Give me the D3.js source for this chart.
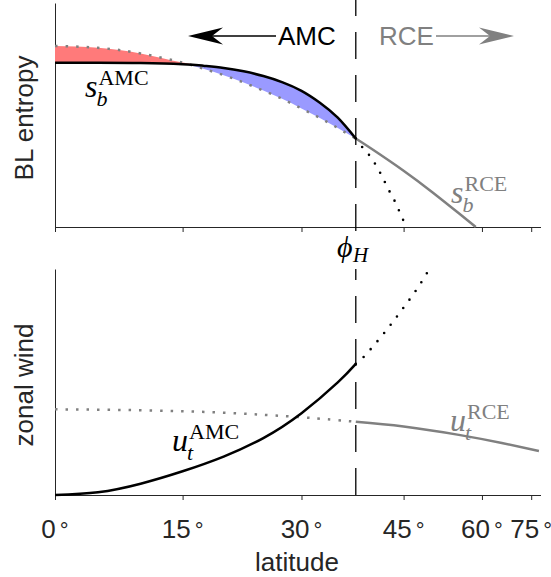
<!DOCTYPE html>
<html>
<head>
<meta charset="utf-8">
<script src="https://cdn.jsdelivr.net/npm/d3@7"></script>
<style>
  body { margin: 0; background: #fff; }
  text { font-family: "Liberation Sans", Arial, sans-serif; }
  text.math { font-family: "Liberation Serif", "DejaVu Serif", serif; }
</style>
</head>
<body>
<div id="chart"></div>
<script>
// latitude ticks (degrees)
var latTicks = [0, 15, 30, 45, 60, 75];
var latMax = 80;
var phiH = 37.6;

// top panel: BL entropy (arbitrary units 0-10)
var sLat = [0, 5, 10, 15, 17.5, 20, 22.5, 25, 27.5, 30, 32.5, 35, 37.6];
var sAmc = [7.33, 7.33, 7.32, 7.27, 7.2, 7.1, 6.95, 6.74, 6.46, 6.08, 5.55, 4.88, 3.95];
var sRceIn = [8.08, 8.0, 7.75, 7.34, 7.07, 6.78, 6.45, 6.09, 5.71, 5.29, 4.87, 4.42, 3.95];
var sRceOutLat = [37.6, 40, 45, 50, 55, 58.6];
var sRceOut = [3.95, 3.48, 2.51, 1.54, 0.61, 0];
var sAmcExtLat = [37.6, 38.7, 39.7, 40.6, 41.4, 42.1, 42.9, 43.7, 44.4, 45.1];
var sAmcExt = [3.95, 3.51, 3.17, 2.77, 2.35, 1.95, 1.5, 1.08, 0.64, 0.21];

// bottom panel: zonal wind (arbitrary units 0-10)
var uAmcLat = [0, 5, 10, 15, 20, 25, 30, 35, 37.6];
var uAmc = [0, 0.12, 0.5, 1.05, 1.7, 2.52, 3.62, 4.98, 5.8];
var uAmcExtLat = [37.6, 38.8, 41.0, 43.1, 45.1, 47.2, 49.2];
var uAmcExt = [5.8, 6.12, 6.86, 7.6, 8.33, 9.1, 9.91];
var uRceLat = [0, 10, 20, 30, 37.6, 45, 55, 65, 79];
var uRce = [3.79, 3.75, 3.64, 3.44, 3.24, 3.03, 2.66, 2.3, 1.95];

var W = 551, H = 577;
var grey = "#808080", axisCol = "#262626";
var rad = Math.PI / 180;

var svg = d3.select("#chart").append("svg")
    .attr("width", W).attr("height", H);

// x is linear in sin(latitude)
var xs = d3.scaleLinear().domain([0, Math.sin(latMax * rad)]).range([55, 540.5]);
function x(lat) { return xs(Math.sin(lat * rad)); }

var yTop = d3.scaleLinear().domain([0, 10]).range([227, 3]);
var yBot = d3.scaleLinear().domain([0, 10]).range([495, 269]);

function zip(a, b) { return a.map(function (v, i) { return [v, b[i]]; }); }

function drawAxes(y, withLabels) {
    var g = svg.append("g");
    var xAxis = d3.axisBottom(xs)
        .tickValues(latTicks.map(function (d) { return Math.sin(d * rad); }))
        .tickFormat("")
        .tickSize(5)
        .tickSizeOuter(0);
    g.append("g").attr("transform", "translate(0," + y.range()[0] + ")").call(xAxis);
    var yAxis = d3.axisLeft(y).tickValues([]).tickSizeOuter(0);
    g.append("g").attr("transform", "translate(55,0)").call(yAxis);
    g.selectAll("path, line").attr("stroke", axisCol).attr("stroke-width", 1);

    if (withLabels) {
        var lab = svg.append("g").attr("font-size", 26).attr("fill", axisCol);
        latTicks.forEach(function (d) {
            var t = lab.append("text").attr("x", x(d)).attr("y", 538).attr("text-anchor", "middle");
            t.append("tspan").text(d);
            t.append("tspan").attr("dx", 4).attr("font-size", 22).text("°");
        });
    }
}

drawAxes(yTop, false);
drawAxes(yBot, true);

// ---------- top panel ----------
var lineTop = d3.line().x(function (d) { return x(d[0]); }).y(function (d) { return yTop(d[1]); })
    .curve(d3.curveNatural);

// red where RCE entropy is above AMC, blue where below
var both = sLat.map(function (l, i) { return [l, sAmc[i], sRceIn[i]]; });
var areaTop = function (pick) {
    return d3.area().x(function (d) { return x(d[0]); })
        .y0(function (d) { return yTop(d[1]); })
        .y1(function (d) { return yTop(pick(d[1], d[2])); })
        .curve(d3.curveMonotoneX);
};
svg.append("path").datum(both).attr("d", areaTop(Math.max)).attr("fill", "#ff7a7a");
svg.append("path").datum(both).attr("d", areaTop(Math.min)).attr("fill", "#9a9aff");

svg.append("path").datum(zip(sLat, sRceIn)).attr("d", lineTop)
    .attr("fill", "none").attr("stroke", grey).attr("stroke-width", 2.5)
    .attr("stroke-dasharray", "2.5,8");
svg.append("path").datum(zip(sRceOutLat, sRceOut)).attr("d", lineTop)
    .attr("fill", "none").attr("stroke", grey).attr("stroke-width", 2.5);
svg.append("path").datum(zip(sAmcExtLat, sAmcExt)).attr("d", lineTop)
    .attr("fill", "none").attr("stroke", "#000").attr("stroke-width", 2.6)
    .attr("stroke-linecap", "round").attr("stroke-dasharray", "0,10.5");
svg.append("path").datum(zip(sLat, sAmc)).attr("d", lineTop)
    .attr("fill", "none").attr("stroke", "#000").attr("stroke-width", 2.5);

// ---------- bottom panel ----------
var lineBot = d3.line().x(function (d) { return x(d[0]); }).y(function (d) { return yBot(d[1]); })
    .curve(d3.curveNatural);

var rceIn = zip(uRceLat, uRce).filter(function (d) { return d[0] <= phiH; });
var rceOut = zip(uRceLat, uRce).filter(function (d) { return d[0] >= phiH; });
svg.append("path").datum(rceIn).attr("d", lineBot)
    .attr("fill", "none").attr("stroke", grey).attr("stroke-width", 2.5)
    .attr("stroke-dasharray", "2.5,8");
svg.append("path").datum(rceOut).attr("d", lineBot)
    .attr("fill", "none").attr("stroke", grey).attr("stroke-width", 2.5);
svg.append("path").datum(zip(uAmcExtLat, uAmcExt)).attr("d", lineBot)
    .attr("fill", "none").attr("stroke", "#000").attr("stroke-width", 2.6)
    .attr("stroke-linecap", "round").attr("stroke-dasharray", "0,10.5");
svg.append("path").datum(zip(uAmcLat, uAmc)).attr("d", lineBot)
    .attr("fill", "none").attr("stroke", "#000").attr("stroke-width", 2.5);

// dashed phi_H line in both panels
[[yTop.range()[0] + 4, 0], [yBot.range()[0], 269]].forEach(function (p) {
    svg.append("line")
        .attr("x1", x(phiH)).attr("x2", x(phiH))
        .attr("y1", p[0]).attr("y2", p[1])
        .attr("stroke", "#000").attr("stroke-width", 1.3)
        .attr("stroke-dasharray", "27,16");
});

// ---------- labels ----------
svg.append("text").attr("transform", "translate(33,118) rotate(-90)")
    .attr("text-anchor", "middle").attr("font-size", 26).attr("fill", axisCol).text("BL entropy");
svg.append("text").attr("transform", "translate(33,385) rotate(-90)")
    .attr("text-anchor", "middle").attr("font-size", 26).attr("fill", axisCol).text("zonal wind");
svg.append("text").attr("x", 297).attr("y", 571)
    .attr("text-anchor", "middle").attr("font-size", 26).attr("fill", axisCol).text("latitude");

// arrows
svg.append("line").attr("x1", 276).attr("x2", 205).attr("y1", 36).attr("y2", 36)
    .attr("stroke", "#000").attr("stroke-width", 1.5);
svg.append("path").attr("d", "M188,36 L223,27.5 L212,36 L223,44.5 Z").attr("fill", "#000");
svg.append("text").attr("x", 278).attr("y", 45).attr("font-size", 26).attr("fill", "#000").text("AMC");
svg.append("text").attr("x", 379).attr("y", 45).attr("font-size", 26).attr("fill", grey).text("RCE");
svg.append("line").attr("x1", 436).attr("x2", 498).attr("y1", 36).attr("y2", 36)
    .attr("stroke", grey).attr("stroke-width", 1.5);
svg.append("path").attr("d", "M514,36 L479,27.5 L490,36 L479,44.5 Z").attr("fill", grey);

// math labels: [main, sub, sup, x, baseline, colour]
var mathLabels = [
    ["s", "b", "AMC", 85, 97, "#000"],
    ["s", "b", "RCE", 451, 203, grey],
    ["u", "t", "AMC", 172, 451, "#000"],
    ["u", "t", "RCE", 450, 431, grey]
];
mathLabels.forEach(function (m) {
    var g = svg.append("g").attr("fill", m[5]);
    var main = g.append("text").attr("class", "math").attr("x", m[3]).attr("y", m[4])
        .attr("font-size", 32).attr("font-style", "italic").text(m[0]);
    var w = main.node().getComputedTextLength();
    g.append("text").attr("class", "math").attr("x", m[3] + w - 1).attr("y", m[4] + 9)
        .attr("font-size", 22).attr("font-style", "italic").text(m[1]);
    g.append("text").attr("class", "math").attr("x", m[3] + w + 1).attr("y", m[4] - 12)
        .attr("font-size", 22).text(m[2]);
});

var ph = svg.append("g").attr("fill", "#000");
ph.append("text").attr("class", "math").attr("x", 337).attr("y", 257)
    .attr("font-size", 30).attr("font-style", "italic").text("ϕ");
ph.append("text").attr("class", "math").attr("x", 353).attr("y", 262)
    .attr("font-size", 21).attr("font-style", "italic").text("H");
</script>
</body>
</html>
